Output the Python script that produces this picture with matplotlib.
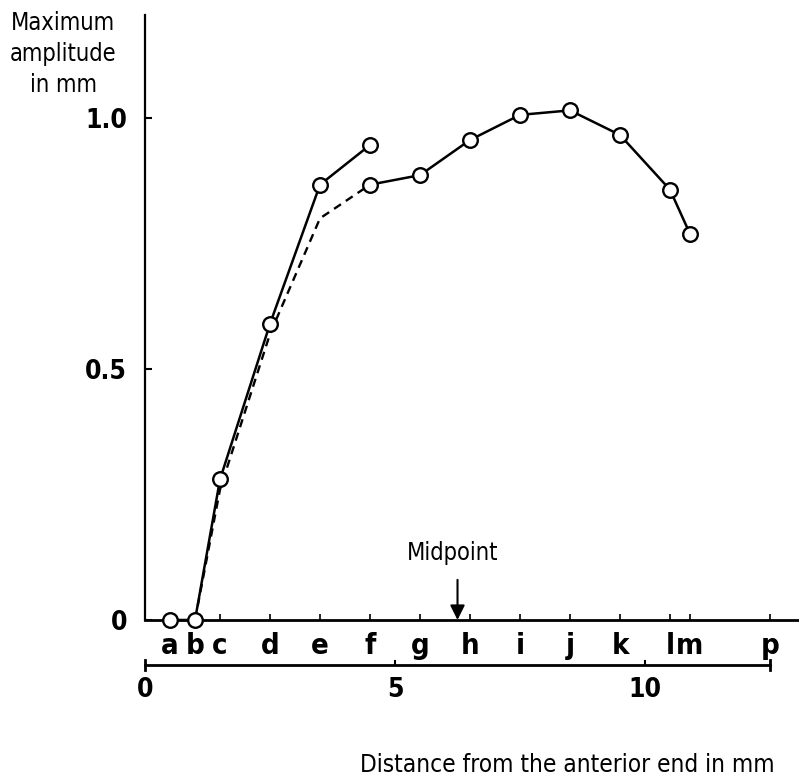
import matplotlib.pyplot as plt
import numpy as np

plt.rcParams['font.family'] = ['Liberation Sans Narrow', 'DejaVu Sans']
plt.rcParams['font.stretch'] = 'condensed'

# positions along the body (mm) and their letter labels
letters = ['a', 'b', 'c', 'd', 'e', 'f', 'g', 'h', 'i', 'j', 'k', 'l', 'm', 'p']
letter_mm = [0.5, 1.0, 1.5, 2.5, 3.5, 4.5, 5.5, 6.5, 7.5, 8.5, 9.5, 10.5, 10.9, 12.5]

# anterior part, solid with circles
front_x = [0.5, 1.0, 1.5, 2.5, 3.5, 4.5]
front_y = [0.0, 0.0, 0.28, 0.59, 0.867, 0.946]

# dashed curve (no markers)
dash_x = [1.0, 1.5, 2.5, 3.5, 4.5]
dash_y = [0.0, 0.26, 0.57, 0.80, 0.867]

# rest of the body, solid with circles
rear_x = [4.5, 5.5, 6.5, 7.5, 8.5, 9.5, 10.5, 10.9]
rear_y = [0.867, 0.886, 0.956, 1.006, 1.015, 0.966, 0.857, 0.769]

midpoint_mm = 6.25
scale_ticks = [0, 5, 10]
scale_end = 12.5

fig = plt.figure(figsize=(7.99, 7.84), dpi=100)
ax = fig.add_axes([0.1815, 0.2092, 0.8185, 0.7717])
ax.set_xlim(0, 13.08)
ax.set_ylim(0, 1.205)

for s in ['top', 'right']:
    ax.spines[s].set_visible(False)
ax.spines['left'].set_linewidth(1.6)
ax.spines['bottom'].set_linewidth(2.0)

mk = dict(marker='o', markersize=10.5, markerfacecolor='white',
          markeredgecolor='black', markeredgewidth=1.7, color='black', lw=1.8)
ax.plot(dash_x, dash_y, color='black', lw=1.7, ls=(0, (3.5, 2.5)), zorder=2)
ax.plot(front_x, front_y, zorder=3, clip_on=False, **mk)
ax.plot(rear_x, rear_y, zorder=3, **mk)

# y axis
ax.set_yticks([0, 0.5, 1.0])
ax.set_yticklabels(['0', '0.5', '1.0'], fontsize=19, fontweight='bold')
ax.tick_params(axis='y', direction='in', length=5, width=1.5, pad=13)

# x axis with letters
ax.set_xticks(letter_mm)
ax.set_xticklabels(letters, fontsize=21, fontweight='bold')
ax.tick_params(axis='x', direction='in', length=4, width=1.2, pad=9)

ax.text(-0.125, 1.006, 'Maximum\namplitude\nin mm', transform=ax.transAxes,
        ha='center', va='top', fontsize=17, linespacing=1.35,
        multialignment='center')

# midpoint arrow
ax.annotate('', xy=(midpoint_mm, 0.0), xytext=(midpoint_mm, 0.08),
            arrowprops=dict(arrowstyle='-|>', color='black', lw=1.5,
                            mutation_scale=22, shrinkA=0, shrinkB=0))
ax.text(midpoint_mm - 0.1, 0.133, 'Midpoint', ha='center', va='center',
        fontsize=17)

# distance scale bar below
tr = ax.get_xaxis_transform()
bar_y = -0.0744
ax.plot([0, scale_end], [bar_y, bar_y], transform=tr, color='black',
        lw=2.0, clip_on=False)
for xe in [0, scale_end]:
    ax.plot([xe, xe], [bar_y - 0.009, bar_y + 0.009], transform=tr,
            color='black', lw=2.0, clip_on=False)
for xt in scale_ticks[1:]:
    ax.plot([xt, xt], [bar_y, bar_y + 0.007], transform=tr,
            color='black', lw=1.5, clip_on=False)
for xt in scale_ticks:
    ax.text(xt, -0.116, str(xt), transform=tr, ha='center', va='center',
            fontsize=19, fontweight='bold')

ax.text(8.44, -0.240, 'Distance from the anterior end in mm', transform=tr,
        ha='center', va='center', fontsize=17.5)

fig.savefig('out.png', dpi=100)
